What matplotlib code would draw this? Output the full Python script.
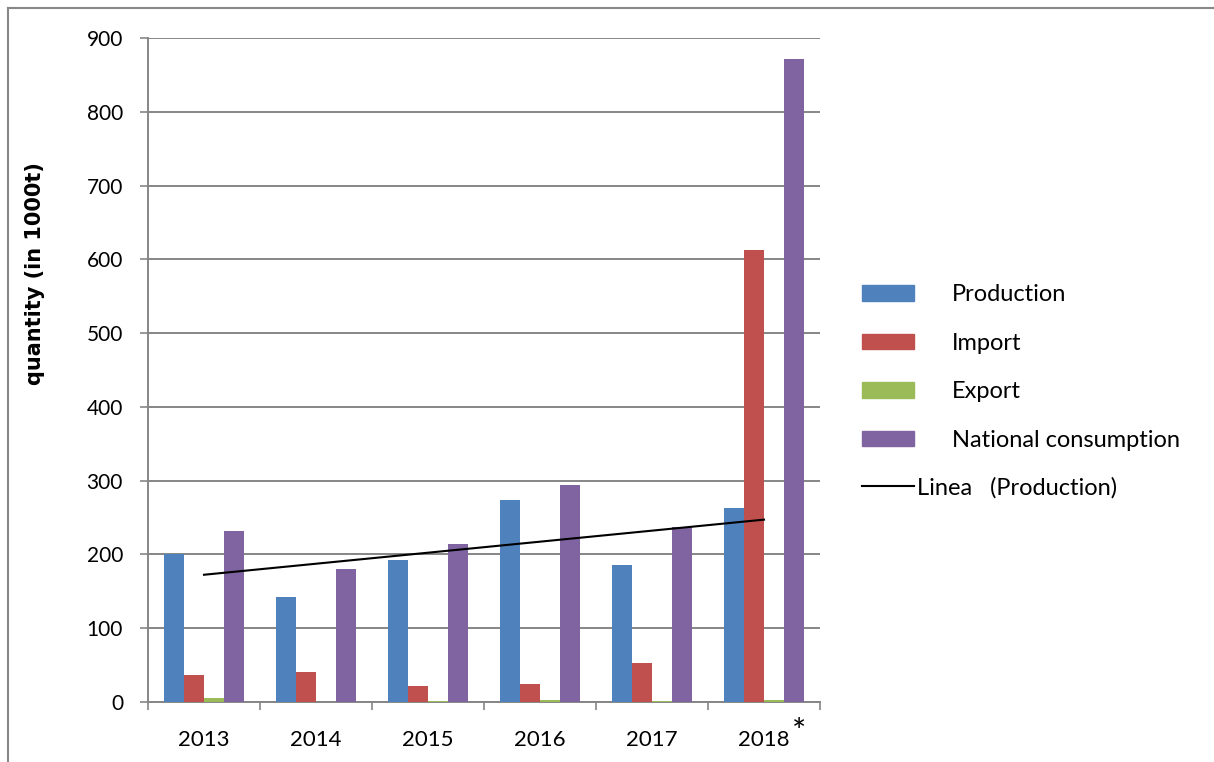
import numpy as np
import matplotlib.pyplot as plt
from matplotlib.patches import Patch
from matplotlib.lines import Line2D

plt.rcParams['font.family'] = ['Lato', 'DejaVu Sans']

# data (in 1000 t)
years = ['2013', '2014', '2015', '2016', '2017', '2018']
production = [201, 142, 193, 274, 186, 263]
imports = [37, 40, 22, 24, 53, 612]
exports = [6, 0, 1, 3, 2, 3]
consumption = [232, 180, 214, 294, 237, 872]

series = [production, imports, exports, consumption]
names = ['Production', 'Import', 'Export', 'National consumption']
colors = ['#4F81BD', '#C0504D', '#9BBB59', '#8064A2']

fig = plt.figure(figsize=(12.14, 7.62), dpi=100)
ax = fig.add_axes([148/1214, 60/762, 672/1214, 664/762])

x = np.arange(len(years))
w = 0.18
for k, (vals, c) in enumerate(zip(series, colors)):
    ax.bar(x + (k - 1.5)*w, vals, width=w, color=c, zorder=3)

# linear trend of production
p = np.polyfit(x, production, 1)
ax.plot(x[[0, -1]], np.polyval(p, x[[0, -1]]), color='black', lw=1.5, zorder=4)

ax.set_xlim(-0.5, 5.5)
ax.set_ylim(0, 900)
ax.set_yticks(np.arange(0, 901, 100))
ax.set_xticks(x)
ax.set_xticklabels(years)
ax.set_xticks(np.arange(-0.5, 6, 1), minor=True)
ax.grid(axis='y', color='#868686', lw=1.4, zorder=0)
for s in ['top', 'right']:
    ax.spines[s].set_visible(False)
for s in ['left', 'bottom']:
    ax.spines[s].set_color('#868686')
    ax.spines[s].set_linewidth(1.4)
ax.tick_params(axis='y', length=6, width=1.2, color='#868686', pad=12, labelsize=15)
ax.tick_params(axis='x', which='major', length=0, pad=20, labelsize=16)
ax.tick_params(axis='x', which='minor', length=6, width=1.2, color='#868686')
ax.annotate('*', xy=(5, 0), xycoords=('data', 'axes fraction'),
            xytext=(35, -31), textcoords='offset pixels', fontsize=24, ha='center', va='center')

ax.set_ylabel('quantity (in 1000t)', fontsize=15, fontweight='bold',
              family=['Liberation Sans Narrow', 'DejaVu Sans'])
ax.yaxis.set_label_coords(-0.153, 0.645)

handles = [Patch(color=c) for c in colors]
fig.legend(handles, names, loc='upper left', bbox_to_anchor=(862/1214, 1 - 284/762),
           frameon=False, fontsize=17, handlelength=2.2, handleheight=0.64,
           handletextpad=1.6, labelspacing=1.17, borderpad=0, borderaxespad=0)
fig.legend([Line2D([0], [0], color='black', lw=1.5)], ['Linea   (Production)'],
           loc='upper left', bbox_to_anchor=(862/1214, 1 - 477/762), frameon=False,
           fontsize=17, handlelength=2.2, handletextpad=0.15, borderpad=0, borderaxespad=0)

# outer chart frame (top and left edges visible)
fig.add_artist(Line2D([8/1214, 1], [1 - 8/762, 1 - 8/762], color='#888888', lw=1.5))
fig.add_artist(Line2D([8/1214, 8/1214], [0, 1 - 8/762], color='#888888', lw=1.5))

fig.savefig('out.png', dpi=100)
